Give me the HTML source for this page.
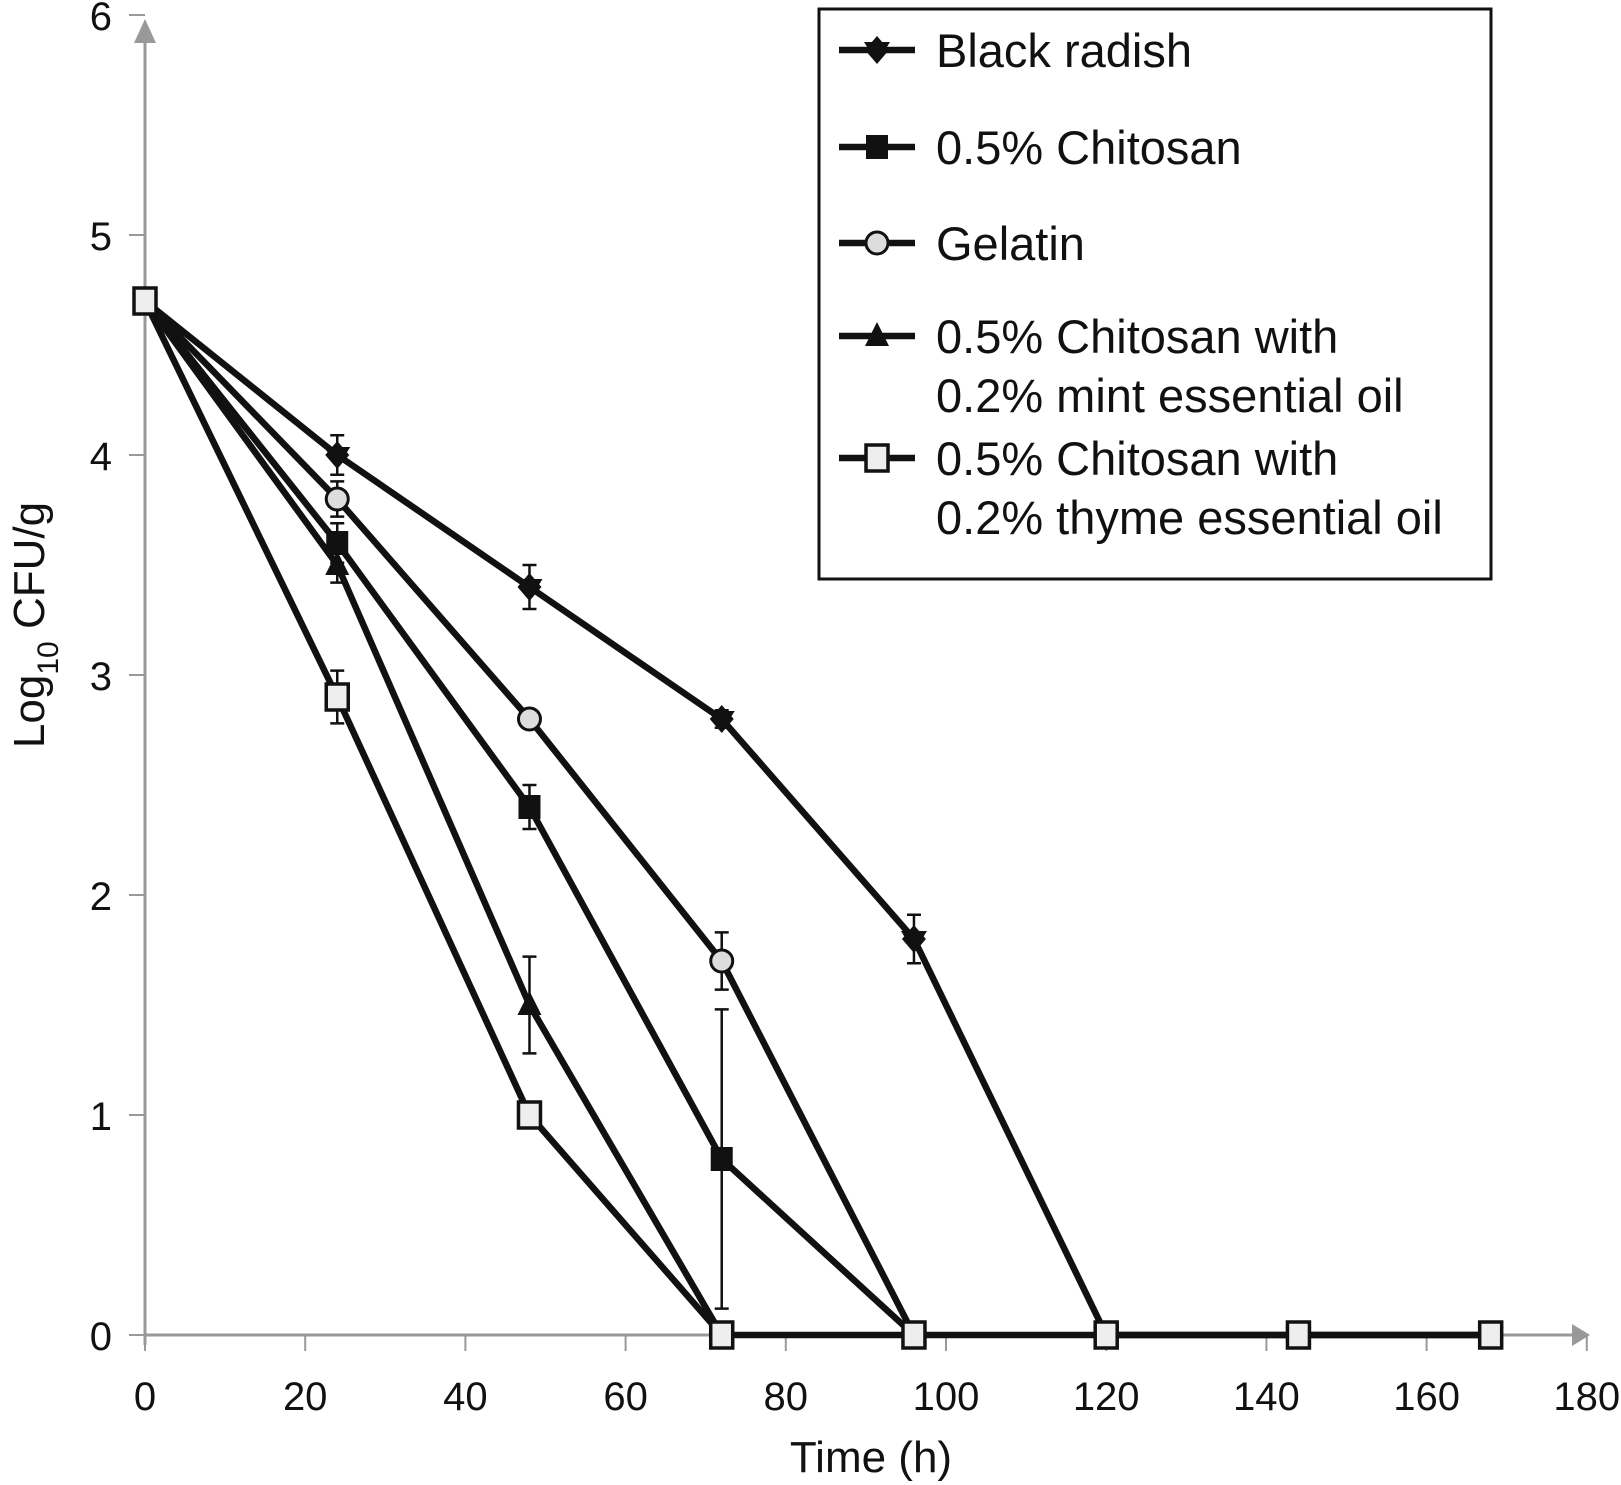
<!DOCTYPE html>
<html><head><meta charset="utf-8"><style>
body{margin:0;background:#fff}
svg{display:block;font-family:"Liberation Sans",Arial,sans-serif}
</style></head><body>
<svg id="chart" width="1621" height="1485" viewBox="0 0 1621 1485" xmlns="http://www.w3.org/2000/svg">
<g id="axes"></g>
<g id="series"></g>
<g id="legend">
  <rect x="819" y="9" width="672" height="570" fill="#fff" stroke="#111" stroke-width="3"/>
</g>
<text transform="translate(44,625) rotate(-90)" text-anchor="middle" font-size="44" fill="#111">Log<tspan font-size="30" dy="14">10</tspan><tspan dy="-14"> CFU/g</tspan></text>
<text x="871" y="1472" text-anchor="middle" font-size="44" fill="#111">Time (h)</text>
</svg>
<script>
const xTicks=[0,20,40,60,80,100,120,140,160,180];
const yTicks=[0,1,2,3,4,5,6];
const times=[0,24,48,72,96,120,144,168];
const blackRadish=[4.7,4.0,3.4,2.8,1.8,0,0,0];
const blackRadishErr=[0.05,0.09,0.1,0.04,0.11,0,0,0];
const chitosan=[4.7,3.6,2.4,0.8,0];
const chitosanErr=[0.05,0.09,0.1,0.68,0];
const gelatin=[4.7,3.8,2.8,1.7,0];
const gelatinErr=[0.05,0.08,0.04,0.13,0];
const mint=[4.7,3.5,1.5,0];
const mintErr=[0.05,0.08,0.22,0];
const thyme=[4.7,2.9,1.0,0,0,0,0,0];
const thymeErr=[0.05,0.12,0.04,0,0,0,0,0];
const legendLabels=[["Black radish"],["0.5% Chitosan"],["Gelatin"],["0.5% Chitosan with","0.2% mint essential oil"],["0.5% Chitosan with","0.2% thyme essential oil"]];

const NS="http://www.w3.org/2000/svg";
const X=t=>145+8.01*t;
const Y=v=>1335-220*v;
function mk(tag,attrs,parent){const e=document.createElementNS(NS,tag);for(const k in attrs)e.setAttribute(k,attrs[k]);parent.appendChild(e);return e;}
const axes=document.getElementById('axes');
const ser=document.getElementById('series');
const leg=document.getElementById('legend');

let a=mk('line',{x1:X(0),y1:Y(0),x2:1578,y2:Y(0),stroke:'#999','stroke-width':3},axes);


a=mk('polygon',{points:`1590,${Y(0)} 1572,${Y(0)-11} 1572,${Y(0)+11}`,fill:'#999'},axes);


a=mk('line',{x1:X(0),y1:Y(0)+10,x2:X(0),y2:28,stroke:'#999','stroke-width':3},axes);


a=mk('polygon',{points:`${X(0)},19 ${X(0)-11},43 ${X(0)+11},43`,fill:'#999'},axes);


xTicks.forEach(t=>{
  let l=mk('line',{x1:X(t),y1:Y(0),x2:X(t),y2:Y(0)+16,stroke:'#999','stroke-width':2},axes);
  
  
  let tx=mk('text',{x:X(t),y:Y(0)+75,'text-anchor':'middle','font-size':40,fill:'#111'},axes);
  tx.textContent=t;
  
  
});
yTicks.forEach(v=>{
  let l=mk('line',{x1:X(0)-16,y1:Y(v),x2:X(0),y2:Y(v),stroke:'#999','stroke-width':2},axes);
  
  
  let tx=mk('text',{x:112,y:Y(v)+15,'text-anchor':'end','font-size':40,fill:'#111'},axes);
  tx.textContent=v;
  
  
});

function marker(kind,cx,cy,parent){
  let e;
  if(kind==='diamond'){e=mk('polygon',{points:`${cx},${cy-14} ${cx+12},${cy} ${cx},${cy+14} ${cx-12},${cy}`,fill:'#111'},parent);
    mk('polygon',{points:`${cx-13},${cy-8} ${cx+13},${cy-8} ${cx},${cy+13}`,fill:'#111'},parent);}
  else if(kind==='square')e=mk('rect',{x:cx-11,y:cy-12,width:22,height:24,fill:'#111'},parent);
  else if(kind==='circle')e=mk('circle',{cx:cx,cy:cy,r:11,fill:'#ddd',stroke:'#111','stroke-width':3},parent);
  else if(kind==='triangle')e=mk('polygon',{points:`${cx},${cy-14} ${cx+12},${cy+10} ${cx-12},${cy+10}`,fill:'#111'},parent);
  else e=mk('rect',{x:cx-11,y:cy-13,width:22,height:26,fill:'#eee',stroke:'#111','stroke-width':3.5},parent);
  return e;
}
const series=[
 {name:'black-radish',vals:blackRadish,err:blackRadishErr,m:'diamond'},
 {name:'chitosan',vals:chitosan,err:chitosanErr,m:'square'},
 {name:'gelatin',vals:gelatin,err:gelatinErr,m:'circle'},
 {name:'chitosan-mint',vals:mint,err:mintErr,m:'triangle'},
 {name:'chitosan-thyme',vals:thyme,err:thymeErr,m:'open'}
];
series.forEach(s=>{
  const g=mk('g',{},ser);
  
  
  const pts=s.vals.map((v,i)=>X(times[i])+','+Y(v)).join(' ');
  const pl=mk('polyline',{points:pts,fill:'none',stroke:'#111','stroke-width':6.5,'stroke-linejoin':'round'},g);
  
  
  s.vals.forEach((v,i)=>{
    const e=s.err[i];
    if(e>0){
      const x=X(times[i]);
      const eb=mk('path',{d:`M${x},${Y(v+e)}V${Y(v-e)}M${x-7},${Y(v+e)}H${x+7}M${x-7},${Y(v-e)}H${x+7}`,stroke:'#111','stroke-width':2.5,fill:'none'},g);
      
      
    }
    const mm=marker(s.m,X(times[i]),Y(v),g);
    
    
  });
});
const rowY=[50,147,243,336,458];
legendLabels.forEach((lab,i)=>{
  const g=mk('g',{},leg);
  
  
  mk('line',{x1:839,y1:rowY[i],x2:915,y2:rowY[i],stroke:'#111','stroke-width':6.5},g);
  marker(series[i].m,877,rowY[i],g);
  lab.forEach((t,j)=>{
    const tx=mk('text',{x:936,y:rowY[i]+17+j*59,'font-size':47,fill:'#111'},g);
    tx.textContent=t;
  });
});
</script>
</body></html>
